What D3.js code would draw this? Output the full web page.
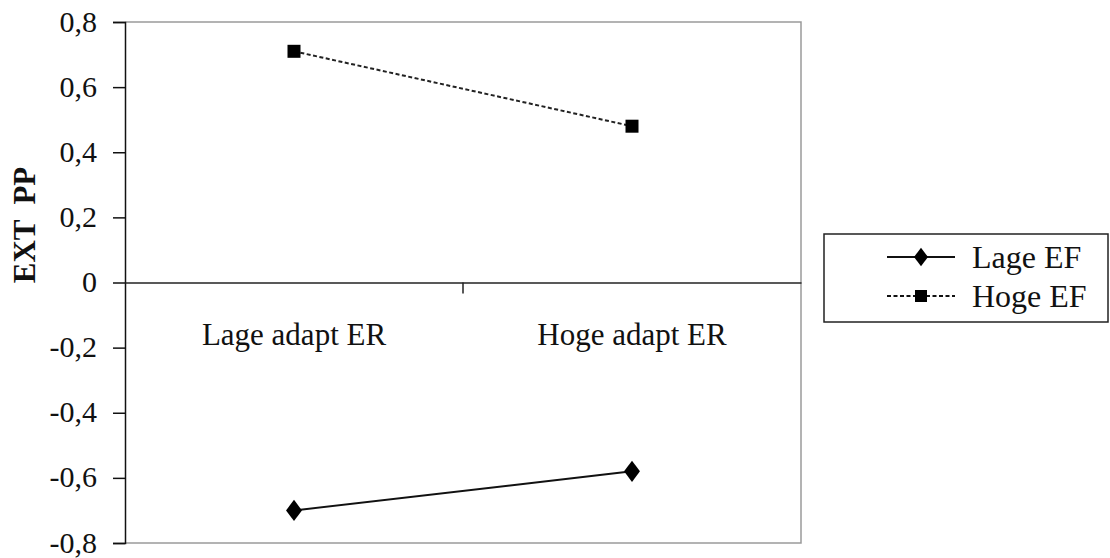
<!DOCTYPE html>
<html>
<head>
<meta charset="utf-8">
<script src="https://cdn.jsdelivr.net/npm/d3@7"></script>
<style>
  body { margin: 0; background: #fff; }
</style>
</head>
<body>
<svg width="1110" height="558"></svg>
<script>
let categories = ["Lage adapt ER", "Hoge adapt ER"];
let seriesNames = ["Lage EF", "Hoge EF"];
let lageEF = [-0.70, -0.58];
let hogeEF = [0.71, 0.48];
let yTicks = [-0.8, -0.6, -0.4, -0.2, 0, 0.2, 0.4, 0.6, 0.8];

let serif = "'Liberation Serif', 'DejaVu Serif', serif";
let svg = d3.select('svg');
let plotLeft = 125, plotRight = 801, plotTop = 22, plotBottom = 543;

let x = d3.scaleBand().domain(categories).range([plotLeft, plotRight]);
let y = d3.scaleLinear().domain([-0.8, 0.8]).range([plotBottom, plotTop]);

let fmt = v => v === 0 ? '0' : d3.format('.1f')(v).replace('.', ',').replace('−', '-');

// frame (top, right, bottom in grey)
svg.append('path')
   .attr('d', `M${plotLeft},${plotTop}H${plotRight}V${plotBottom}H${plotLeft}`)
   .attr('fill', 'none')
   .attr('stroke', '#9a9a9a')
   .attr('stroke-width', 1.5);

// y axis
let yAxis = svg.append('g')
   .attr('transform', `translate(${plotLeft},0)`)
   .call(d3.axisLeft(y).tickValues(yTicks).tickFormat(fmt).tickSize(12).tickPadding(16));
yAxis.select('.domain').attr('stroke', '#111').attr('stroke-width', 1.5);
yAxis.selectAll('.tick line').attr('stroke', '#111').attr('stroke-width', 1.5);
yAxis.selectAll('text')
   .style('font-family', serif).style('font-size', '30px').style('fill', '#111')
   .attr('dy', '0.3em');

// x axis on zero line
let xAxis = svg.append('g')
   .attr('transform', `translate(0,${y(0)})`)
   .call(d3.axisBottom(x).tickSize(0).tickPadding(40));
xAxis.select('.domain').attr('stroke', '#222').attr('stroke-width', 1.5);
xAxis.selectAll('text')
   .style('font-family', serif).style('font-size', '31px').style('fill', '#111');
// divider tick between categories
xAxis.append('line')
   .attr('x1', plotLeft + x.bandwidth()).attr('x2', plotLeft + x.bandwidth())
   .attr('y1', 0).attr('y2', 11)
   .attr('stroke', '#222').attr('stroke-width', 1.5);

// y title
svg.append('text')
   .attr('transform', `translate(35,225) rotate(-90)`)
   .attr('text-anchor', 'middle')
   .style('font-family', serif)
   .style('font-size', '31px')
   .style('font-weight', 'bold')
   .style('fill', '#111')
   .style('white-space', 'pre')
   .text('EXT  PP');

let cx = c => x(c) + x.bandwidth() / 2;
let line = d3.line().x((d, i) => cx(categories[i])).y(d => y(d));

// Lage EF: solid with diamonds
svg.append('path')
   .datum(lageEF)
   .attr('d', line)
   .attr('fill', 'none')
   .attr('stroke', '#111')
   .attr('stroke-width', 2);
svg.selectAll('.diamond')
   .data(lageEF)
   .enter()
   .append('path')
   .attr('class', 'diamond')
   .attr('d', d3.symbol(d3.symbolDiamond, 130))
   .attr('transform', (d, i) => `translate(${cx(categories[i])},${y(d)}) scale(1.3,1)`)
   .attr('fill', '#000');

// Hoge EF: dashed with squares
svg.append('path')
   .datum(hogeEF)
   .attr('d', line)
   .attr('fill', 'none')
   .attr('stroke', '#222')
   .attr('stroke-width', 2)
   .attr('stroke-dasharray', '4,2.5');
svg.selectAll('.square')
   .data(hogeEF)
   .enter()
   .append('rect')
   .attr('class', 'square')
   .attr('x', (d, i) => cx(categories[i]) - 6.5)
   .attr('y', d => y(d) - 6.5)
   .attr('width', 13)
   .attr('height', 13)
   .attr('fill', '#000');

// legend
let legend = svg.append('g');
legend.append('rect')
   .attr('x', 824).attr('y', 234)
   .attr('width', 284).attr('height', 88)
   .attr('fill', '#fff')
   .attr('stroke', '#222')
   .attr('stroke-width', 1.5);
let rowsY = [257, 296];
seriesNames.forEach((name, i) => {
  legend.append('line')
     .attr('x1', 887).attr('x2', 955)
     .attr('y1', rowsY[i]).attr('y2', rowsY[i])
     .attr('stroke', '#111')
     .attr('stroke-width', 2)
     .attr('stroke-dasharray', i === 0 ? null : '4,2.5');
  if (i === 0) {
    legend.append('path')
       .attr('d', d3.symbol(d3.symbolDiamond, 100))
       .attr('transform', `translate(921,${rowsY[i]}) scale(1.3,1)`)
       .attr('fill', '#000');
  } else {
    legend.append('rect')
       .attr('x', 915).attr('y', rowsY[i] - 6)
       .attr('width', 12).attr('height', 12)
       .attr('fill', '#000');
  }
  legend.append('text')
     .attr('x', 972).attr('y', rowsY[i])
     .attr('dy', '0.33em')
     .style('font-family', serif)
     .style('font-size', '32px')
     .style('fill', '#111')
     .text(name);
});
</script>
</body>
</html>
